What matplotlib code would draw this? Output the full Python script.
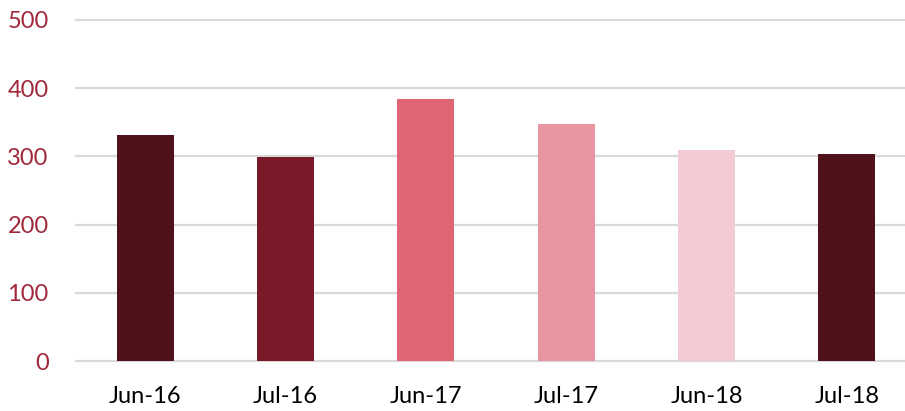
import matplotlib
matplotlib.use("Agg")
import matplotlib.pyplot as plt

months = ["Jun-16", "Jul-16", "Jun-17", "Jul-17", "Jun-18", "Jul-18"]
values = [331, 299, 384, 347, 309, 303]
colors = ["#4f111a", "#7a1a28", "#df6575", "#e895a1", "#f4cbd2", "#4f111a"]
yticks = [0, 100, 200, 300, 400, 500]

plt.rcParams['font.family'] = ['Lato', 'DejaVu Sans']

W, H = 905, 411
fig = plt.figure(figsize=(W / 100, H / 100), dpi=100)
# axes runs slightly past the right edge, as in the cropped original
ax = fig.add_axes([75 / W, 50 / H, 842 / W, 341 / H])

x = range(len(months))
ax.bar(x, values, width=0.405, color=colors, zorder=3)

ax.set_xlim(-0.5, len(months) - 0.5)
ax.set_ylim(0, 500)
ax.hlines(yticks, -0.5, len(months) - 0.5, colors="#d9d9d9", linewidth=1.6,
          zorder=1, clip_on=False)

ax.set_xticks(list(x))
ax.set_xticklabels(months, fontsize=17, color="#000000")
ax.set_yticks(yticks)
ax.set_yticklabels([str(v) for v in yticks], fontsize=17, color="#a0283a")
ax.tick_params(axis="both", length=0)
ax.tick_params(axis="y", pad=19)
ax.tick_params(axis="x", pad=18)

for s in ax.spines.values():
    s.set_visible(False)

fig.savefig("out.png", dpi=100)
